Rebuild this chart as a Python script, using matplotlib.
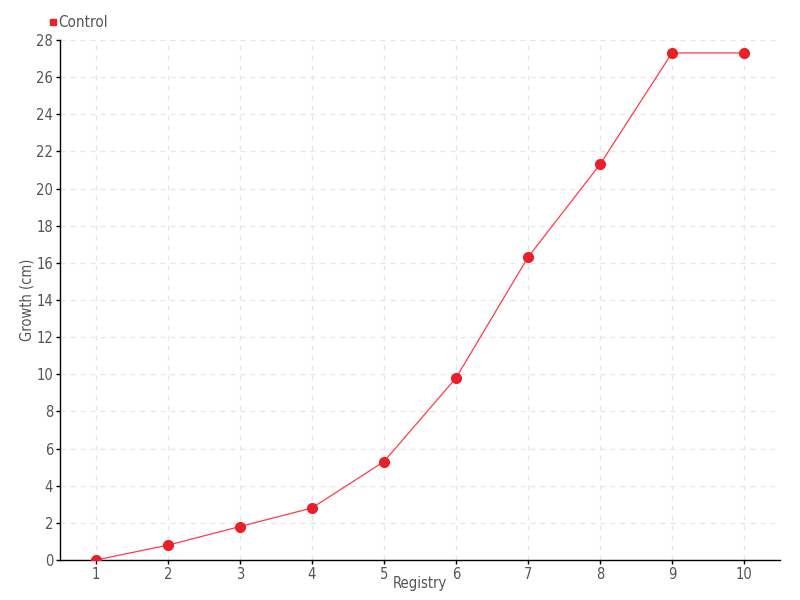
import matplotlib
matplotlib.use("Agg")
import matplotlib.pyplot as plt
from matplotlib.lines import Line2D

plt.rcParams['font.family'] = ['DejaVu Sans']
plt.rcParams['font.stretch'] = 'condensed'

registry = [1, 2, 3, 4, 5, 6, 7, 8, 9, 10]
growth = [0, 0.8, 1.8, 2.8, 5.3, 9.8, 16.3, 21.3, 27.3, 27.3]
y_ticks = list(range(0, 29, 2))
series_name = "Control"

fig = plt.figure(figsize=(8, 6), dpi=100)
ax = fig.add_axes([0.075, 0.0667, 0.9, 0.8667])

ax.plot(registry, growth, color="#ff3a4a", linewidth=0.9, zorder=3)
ax.plot(registry, growth, "o", color="#e8202a", markersize=7, zorder=4)

ax.set_xlim(0.5, 10.5)
ax.set_ylim(0, 28)
ax.set_xticks(registry)
ax.set_yticks(y_ticks)

ax.grid(True, linestyle=(0, (4, 4)), color="#e6e6e6", linewidth=0.9)
ax.set_axisbelow(True)
for s in ["top", "right"]:
    ax.spines[s].set_visible(False)
for s in ["left", "bottom"]:
    ax.spines[s].set_color("black")
    ax.spines[s].set_linewidth(1)

ax.tick_params(axis="both", colors="black", labelcolor="#555555", labelsize=10.5, length=3, width=1, pad=2)
ax.set_xlabel("Registry", color="#555555", fontsize=10.5)
ax.set_ylabel("Growth (cm)", color="#555555", fontsize=10.5)
ax.xaxis.set_label_coords(0.5, -0.03)
ax.yaxis.set_label_coords(-0.036, 0.5)

handle = Line2D([], [], marker="s", color="#e8202a", linestyle="none", markersize=4.5)
leg = fig.legend([handle], [series_name], loc="upper left", bbox_to_anchor=(0.053, 0.985),
                 frameon=False, fontsize=11, handletextpad=0.05, handlelength=0.6,
                 borderaxespad=0)
for t in leg.get_texts():
    t.set_color("#555555")

fig.savefig("out.png", dpi=100)
